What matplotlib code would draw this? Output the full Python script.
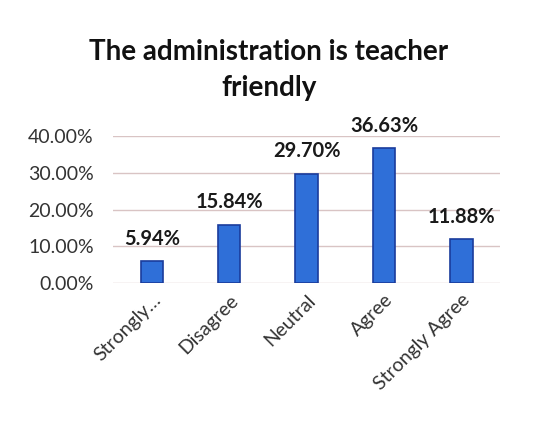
import matplotlib.pyplot as plt

categories = ['Strongly…', 'Disagree', 'Neutral', 'Agree', 'Strongly Agree']
values = [5.94, 15.84, 29.70, 36.63, 11.88]
yticks = [0, 10, 20, 30, 40]

plt.rcParams['font.family'] = ['Lato', 'DejaVu Sans']

fig = plt.figure(figsize=(5.49, 4.32), dpi=100)
ax = fig.add_axes([0.206, 0.345, 0.705, 0.34])

x = range(len(categories))
ax.bar(x, values, width=0.29, color='#2f6fd8', edgecolor='#1a3c9c', linewidth=1.2, zorder=3)

for xi, v in zip(x, values):
    ax.annotate(f'{v:.2f}%', (xi, v), xytext=(0, 9), textcoords='offset points',
                ha='center', va='bottom', fontsize=14.5, fontweight='bold',
                color='#1a1a1a', annotation_clip=False)

ax.set_xlim(-0.5, len(categories) - 0.5)
ax.set_ylim(0, 40)
ax.set_yticks(yticks)
ax.set_yticklabels([f'{t:.2f}%' for t in yticks], fontsize=14, color='#333333')
ax.set_xticks(list(x))
ax.set_xticklabels(categories, rotation=45, ha='right', rotation_mode='anchor',
                   fontsize=14, color='#333333')
ax.tick_params(axis='y', length=0, pad=14)
ax.tick_params(axis='x', length=0, pad=6)
ax.grid(axis='y', color='#d9c4c4', linewidth=1, zorder=0)
for s in ax.spines.values():
    s.set_visible(False)

fig.text(0.49, 0.838, 'The administration is teacher\nfriendly', ha='center', va='center',
         fontsize=20, fontweight='bold', color='#111111', linespacing=1.45)

fig.savefig('out.png', dpi=100)
